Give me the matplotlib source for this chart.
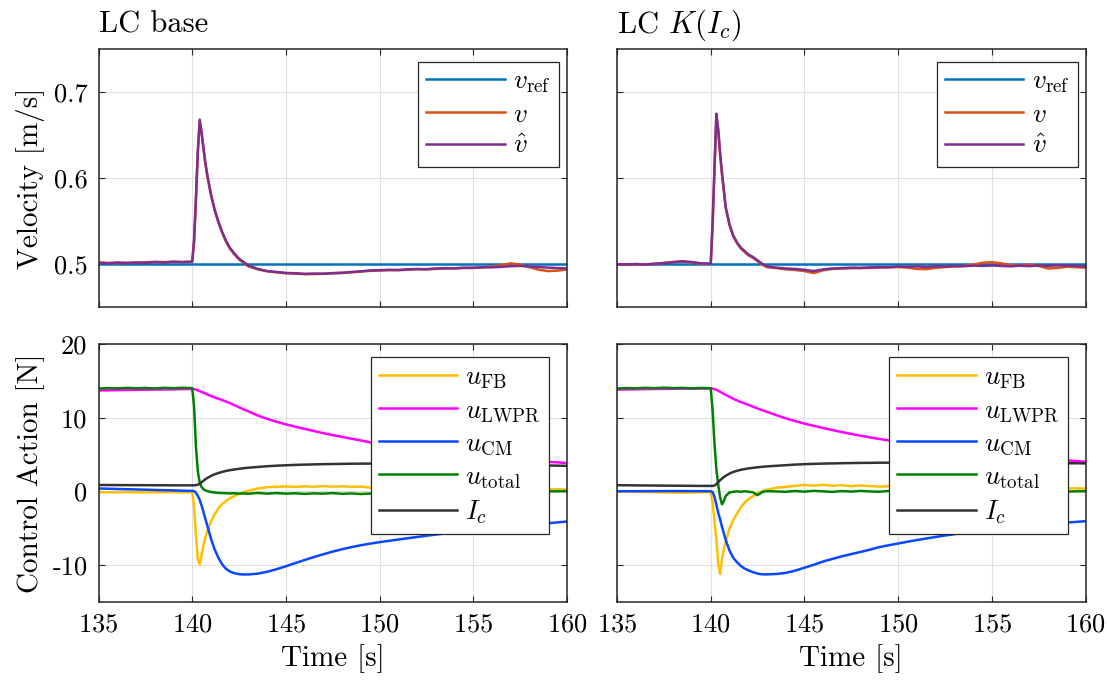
import matplotlib
matplotlib.use("Agg")
import matplotlib.pyplot as plt

# ---------------------------------------------
# data
# ---------------------------------------------
t = [135.0, 135.5, 136.0, 136.5, 137.0, 137.5, 138.0, 138.5, 139.0, 139.5, 140.0,
     140.1, 140.2, 140.3, 140.4, 140.5, 140.6, 140.7, 140.8, 141.0, 141.2, 141.4,
     141.6, 141.8, 142.0, 142.25, 142.5, 142.75, 143.0,
     143.5, 144.0, 144.5, 145.0, 145.5, 146.0, 146.5, 147.0, 147.5, 148.0, 148.5,
     149.0, 149.5, 150.0, 150.5, 151.0, 151.5, 152.0, 152.5, 153.0, 153.5, 154.0,
     154.5, 155.0, 155.5, 156.0, 156.5, 157.0, 157.5, 158.0, 158.5, 159.0, 159.5, 160.0]

t_ref = [135.0, 160.0]
v_ref = [0.5, 0.5]

# LC base
v_left = [0.5015, 0.5010, 0.5008, 0.5012, 0.5010, 0.5018, 0.5022, 0.5020, 0.5025, 0.5022, 0.5025,
          0.525, 0.575, 0.630, 0.666, 0.652, 0.634, 0.617, 0.603, 0.580, 0.562, 0.548,
          0.536, 0.526, 0.518, 0.511, 0.505, 0.501, 0.497,
          0.4935, 0.4912, 0.4900, 0.4890, 0.4884, 0.4880, 0.4880, 0.4883, 0.4888, 0.4893, 0.4900,
          0.4910, 0.4918, 0.4922, 0.4925, 0.4928, 0.4930, 0.4935, 0.4938, 0.4940, 0.4945, 0.4948,
          0.4950, 0.4953, 0.4958, 0.4968, 0.4985, 0.5005, 0.4990, 0.4960, 0.4930, 0.4915, 0.4920, 0.4935]
vhat_left = [0.5012, 0.5005, 0.5015, 0.5008, 0.5016, 0.5010, 0.5020, 0.5014, 0.5022, 0.5018, 0.5024,
             0.528, 0.578, 0.632, 0.668, 0.653, 0.635, 0.618, 0.604, 0.581, 0.563, 0.549,
             0.537, 0.527, 0.519, 0.512, 0.506, 0.502, 0.498,
             0.4940, 0.4915, 0.4905, 0.4893, 0.4890, 0.4882, 0.4886, 0.4884, 0.4892, 0.4895, 0.4905,
             0.4912, 0.4922, 0.4925, 0.4930, 0.4926, 0.4935, 0.4940, 0.4935, 0.4945, 0.4950, 0.4946,
             0.4955, 0.4952, 0.4960, 0.4958, 0.4965, 0.4972, 0.4975, 0.4968, 0.4962, 0.4955, 0.4950, 0.4945]

# LC K(Ic)
v_right = [0.4990, 0.4988, 0.4992, 0.4995, 0.4998, 0.5010, 0.5022, 0.5025, 0.5015, 0.5000, 0.4998,
           0.545, 0.610, 0.672, 0.655, 0.628, 0.604, 0.585, 0.565, 0.545, 0.532, 0.524,
           0.518, 0.514, 0.510, 0.507, 0.503, 0.499, 0.496,
           0.4950, 0.4935, 0.4928, 0.4915, 0.4892, 0.4925, 0.4940, 0.4945, 0.4948, 0.4950, 0.4952,
           0.4955, 0.4958, 0.4962, 0.4955, 0.4940, 0.4938, 0.4952, 0.4962, 0.4968, 0.4975, 0.4990,
           0.5012, 0.5018, 0.5005, 0.4985, 0.4978, 0.4990, 0.4975, 0.4945, 0.4952, 0.4965, 0.4960, 0.4955]
vhat_right = [0.4995, 0.4992, 0.4998, 0.4990, 0.5002, 0.5008, 0.5018, 0.5030, 0.5020, 0.5005, 0.5002,
              0.548, 0.612, 0.675, 0.657, 0.629, 0.606, 0.586, 0.566, 0.546, 0.533, 0.525,
              0.519, 0.515, 0.511, 0.508, 0.504, 0.500, 0.497,
              0.4955, 0.4945, 0.4940, 0.4930, 0.4915, 0.4935, 0.4945, 0.4950, 0.4955, 0.4952, 0.4958,
              0.4962, 0.4960, 0.4968, 0.4965, 0.4970, 0.4962, 0.4972, 0.4968, 0.4975, 0.4972, 0.4978,
              0.4975, 0.4980, 0.4975, 0.4970, 0.4978, 0.4972, 0.4980, 0.4976, 0.4982, 0.4978, 0.4975, 0.4970]

# control actions, LC base
u_fb_left = [-0.12, -0.10, -0.13, -0.09, -0.11, -0.12, -0.10, -0.11, -0.09, -0.12, -0.10,
             -2.0, -6.0, -9.2, -9.9, -8.6, -7.3, -6.3, -5.4, -4.1, -3.1, -2.3,
             -1.7, -1.3, -0.95, -0.62, -0.35, -0.10, 0.10,
             0.40, 0.58, 0.62, 0.68, 0.62, 0.70, 0.64, 0.72, 0.65, 0.70, 0.63,
             0.66, 0.52, 0.45, 0.48, 0.44, 0.46, 0.42, 0.43, 0.40, 0.41, 0.38,
             0.39, 0.36, 0.37, 0.34, 0.35, 0.32, 0.33, 0.30, 0.30, 0.28, 0.27, 0.25]
u_lwpr_left = [13.70, 13.72, 13.74, 13.76, 13.78, 13.80, 13.82, 13.84, 13.86, 13.88, 13.90,
               13.88, 13.82, 13.72, 13.62, 13.50, 13.40, 13.28, 13.17, 12.95, 12.75, 12.58,
               12.40, 12.20, 12.00, 11.70, 11.42, 11.13, 10.86,
               10.30, 9.85, 9.45, 9.10, 8.78, 8.48, 8.20, 7.90, 7.65, 7.40, 7.15,
               6.92, 6.65, 6.45, 6.25, 6.05, 5.87, 5.70, 5.53, 5.37, 5.22, 5.08,
               4.95, 4.83, 4.71, 4.60, 4.50, 4.40, 4.30, 4.20, 4.11, 4.02, 3.94, 3.86]
u_cm_left = [0.40, 0.37, 0.33, 0.30, 0.27, 0.24, 0.20, 0.17, 0.14, 0.10, 0.07,
             0.05, -0.20, -0.60, -1.15, -1.90, -2.80, -3.70, -4.60, -6.40, -7.90, -9.00,
             -9.90, -10.50, -10.85, -11.10, -11.22, -11.27, -11.26,
             -11.15, -10.90, -10.55, -10.15, -9.72, -9.30, -8.90, -8.52, -8.16, -7.84, -7.55,
             -7.30, -7.08, -6.88, -6.70, -6.52, -6.35, -6.18, -6.01, -5.85, -5.70, -5.55,
             -5.40, -5.26, -5.12, -4.98, -4.86, -4.74, -4.62, -4.51, -4.40, -4.30, -4.20, -4.08]
u_total_left = [13.95, 14.02, 13.98, 14.05, 14.00, 14.04, 13.97, 14.06, 14.01, 14.07, 14.02,
                11.5, 6.0, 2.7, 1.2, 0.6, 0.3, 0.15, 0.05, -0.08, -0.15, -0.20,
                -0.22, -0.25, -0.27, -0.24, -0.30, -0.27, -0.31,
                -0.20, -0.30, -0.22, -0.30, -0.25, -0.33, -0.26, -0.30, -0.22, -0.32, -0.27,
                -0.35, -0.28, -0.30, -0.26, -0.24, -0.22, -0.20, -0.19, -0.17, -0.15, -0.14,
                -0.12, -0.10, -0.09, -0.08, -0.06, -0.05, -0.04, -0.02, -0.01, 0.00, 0.02, 0.03]
ic_left = [0.88, 0.87, 0.86, 0.86, 0.85, 0.85, 0.84, 0.84, 0.83, 0.83, 0.83,
           0.83, 0.85, 0.92, 1.05, 1.25, 1.45, 1.65, 1.82, 2.10, 2.33, 2.50,
           2.65, 2.78, 2.88, 2.98, 3.07, 3.15, 3.22,
           3.32, 3.42, 3.49, 3.55, 3.60, 3.64, 3.67, 3.70, 3.72, 3.74, 3.76,
           3.77, 3.78, 3.79, 3.80, 3.80, 3.80, 3.80, 3.79, 3.78, 3.77, 3.76,
           3.74, 3.72, 3.70, 3.68, 3.65, 3.63, 3.60, 3.58, 3.55, 3.52, 3.50, 3.47]

# control actions, LC K(Ic)
u_fb_right = [-0.05, -0.03, -0.06, -0.08, -0.10, -0.12, -0.15, -0.17, -0.14, -0.10, -0.08,
              -1.5, -4.0, -6.5, -9.8, -11.2, -9.2, -7.8, -6.8, -5.0, -3.9, -3.0,
              -2.2, -1.55, -1.05, -0.65, -0.25, 0.05, 0.25,
              0.50, 0.62, 0.75, 0.88, 0.78, 0.90, 0.76, 0.84, 0.70, 0.82, 0.72,
              0.66, 0.72, 0.62, 0.68, 0.58, 0.64, 0.55, 0.60, 0.52, 0.57, 0.50,
              0.54, 0.48, 0.52, 0.46, 0.50, 0.44, 0.47, 0.42, 0.45, 0.40, 0.42, 0.39]
u_lwpr_right = [13.82, 13.84, 13.86, 13.88, 13.90, 13.92, 13.93, 13.94, 13.95, 13.96, 13.97,
                13.95, 13.88, 13.78, 13.66, 13.52, 13.38, 13.24, 13.10, 12.84, 12.58, 12.35,
                12.14, 11.95, 11.76, 11.50, 11.25, 11.02, 10.80,
                10.35, 9.92, 9.55, 9.20, 8.90, 8.60, 8.32, 8.05, 7.80, 7.56, 7.33,
                7.12, 6.92, 6.73, 6.54, 6.35, 6.17, 5.99, 5.82, 5.66, 5.51, 5.37,
                5.23, 5.10, 4.97, 4.85, 4.74, 4.63, 4.52, 4.42, 4.32, 4.22, 4.12, 4.02]
u_cm_right = [0.03, 0.03, 0.03, 0.04, 0.04, 0.05, 0.05, 0.05, 0.04, 0.04, 0.03,
              -0.10, -0.70, -1.80, -2.90, -3.80, -4.80, -5.70, -6.60, -8.00, -9.00, -9.60,
              -10.10, -10.45, -10.70, -10.95, -11.15, -11.25, -11.25,
              -11.20, -11.05, -10.75, -10.35, -9.95, -9.50, -9.15, -8.80, -8.50, -8.20, -7.90,
              -7.55, -7.30, -7.06, -6.82, -6.60, -6.38, -6.18, -5.98, -5.80, -5.62, -5.45,
              -5.30, -5.16, -5.02, -4.90, -4.78, -4.66, -4.54, -4.43, -4.32, -4.22, -4.13, -4.04]
u_total_right = [13.96, 14.03, 13.99, 14.06, 14.01, 14.08, 14.02, 14.05, 13.98, 14.04, 14.00,
                 11.0, 6.5, 3.0, 0.9, -0.8, -1.75, -1.3, -0.6, -0.15, -0.05, 0.02,
                 -0.06, 0.03, -0.04, -0.12, -0.50, -0.08, 0.04,
                 0.00, -0.05, 0.06, -0.03, 0.08, 0.01, -0.06, 0.05, -0.02, 0.07, 0.00,
                 -0.04, 0.06, 0.02, -0.05, 0.04, 0.00, 0.06, -0.03, 0.05, 0.01, -0.04,
                 0.03, 0.06, 0.00, -0.03, 0.05, 0.02, -0.02, 0.04, 0.01, -0.03, 0.02, 0.03]
ic_right = [0.85, 0.84, 0.82, 0.81, 0.80, 0.79, 0.78, 0.77, 0.76, 0.75, 0.75,
            0.75, 0.80, 1.00, 1.25, 1.52, 1.75, 1.95, 2.12, 2.42, 2.64, 2.80,
            2.93, 3.03, 3.12, 3.20, 3.28, 3.34, 3.40,
            3.48, 3.56, 3.64, 3.70, 3.74, 3.78, 3.80, 3.83, 3.85, 3.87, 3.88,
            3.90, 3.90, 3.91, 3.92, 3.92, 3.93, 3.93, 3.93, 3.93, 3.92, 3.92,
            3.91, 3.91, 3.90, 3.89, 3.88, 3.87, 3.86, 3.85, 3.84, 3.83, 3.82, 3.81]

titles = ["LC base", r"LC $K(I_c)$"]
x_ticks = [135, 140, 145, 150, 155, 160]
v_ticks = [0.5, 0.6, 0.7]
v_tick_labels = ["0.5", "0.6", "0.7"]
u_ticks = [-10, 0, 10, 20]
u_tick_labels = ["-10", "0", "10", "20"]

# ---------------------------------------------
# style (MATLAB / LaTeX look)
# ---------------------------------------------
plt.rcParams["font.family"] = "serif"
plt.rcParams["font.serif"] = ["cmr10"]
plt.rcParams["mathtext.fontset"] = "cm"
plt.rcParams["axes.formatter.use_mathtext"] = True

AX_COL = "#262626"
LW = 1.8
FS_TICK = 19
FS_LABEL = 21
FS_TITLE = 22
FS_LEG = 19.5

col_v = {"ref": "#0072BD", "v": "#D95319", "vhat": "#7E2F8E"}
col_u = {"fb": "#FFBF00", "lwpr": "#FF00FF", "cm": "#0A47FF",
         "total": "#008000", "ic": "#333333"}

fig = plt.figure(figsize=(11.07, 6.8), dpi=100)

lefts = [0.0890, 0.5574]
width = 0.4232
ax_v = [fig.add_axes([l, 0.549, width, 0.3785]) for l in lefts]
ax_u = [fig.add_axes([l, 0.1147, width, 0.3794]) for l in lefts]


def style(ax):
    ax.set_xlim(135, 160)
    ax.set_xticks(x_ticks)
    ax.grid(True, color="#e0e0e0", lw=0.8)
    ax.set_axisbelow(True)
    ax.tick_params(direction="in", top=True, right=True, length=4,
                   width=0.8, color=AX_COL, labelsize=FS_TICK, pad=8)
    for s in ax.spines.values():
        s.set_color(AX_COL)
        s.set_linewidth(1.1)


def add_legend(ax, anchor):
    leg = ax.legend(loc="upper right", bbox_to_anchor=anchor,
                    borderaxespad=0, fancybox=False, framealpha=1,
                    edgecolor=AX_COL, handlelength=2.9, labelspacing=0.28,
                    fontsize=FS_LEG, borderpad=0.3, handletextpad=0.3)
    leg.get_frame().set_linewidth(0.9)


v_data = [(v_left, vhat_left), (v_right, vhat_right)]
u_data = [(u_fb_left, u_lwpr_left, u_cm_left, u_total_left, ic_left),
          (u_fb_right, u_lwpr_right, u_cm_right, u_total_right, ic_right)]

for i in range(2):
    ax = ax_v[i]
    style(ax)
    v, vh = v_data[i]
    ax.plot(t_ref, v_ref, color=col_v["ref"], lw=LW, label=r"$v_\mathrm{ref}$")
    ax.plot(t, v, color=col_v["v"], lw=LW, label=r"$v$")
    ax.plot(t, vh, color=col_v["vhat"], lw=LW, label=r"$\hat{v}$")
    ax.set_ylim(0.45, 0.75)
    ax.set_yticks(v_ticks, v_tick_labels)
    ax.tick_params(labelbottom=False)
    ax.set_title(titles[i], loc="left", fontsize=FS_TITLE, pad=12)
    add_legend(ax, (0.983, 0.952))

    ax = ax_u[i]
    style(ax)
    fb, lw_, cm, tot, ic = u_data[i]
    ax.plot(t, fb, color=col_u["fb"], lw=LW, label=r"$u_\mathrm{FB}$")
    ax.plot(t, lw_, color=col_u["lwpr"], lw=LW, label=r"$u_\mathrm{LWPR}$")
    ax.plot(t, cm, color=col_u["cm"], lw=LW, label=r"$u_\mathrm{CM}$")
    ax.plot(t, tot, color=col_u["total"], lw=LW, label=r"$u_\mathrm{total}$")
    ax.plot(t, ic, color=col_u["ic"], lw=LW, label=r"$I_c$")
    ax.set_ylim(-15, 20)
    ax.set_yticks(u_ticks, u_tick_labels)
    ax.set_xlabel("Time [s]", fontsize=FS_LABEL, labelpad=5)
    add_legend(ax, (0.9616, 0.948))

    if i == 1:
        ax_v[i].tick_params(labelleft=False)
        ax.tick_params(labelleft=False)

ax_v[0].set_ylabel("Velocity [m/s]", fontsize=FS_LABEL)
ax_u[0].set_ylabel("Control Action [N]", fontsize=FS_LABEL)
ax_v[0].yaxis.set_label_coords(-0.115, 0.5)
ax_u[0].yaxis.set_label_coords(-0.115, 0.5)

fig.savefig("out.png", dpi=100)
